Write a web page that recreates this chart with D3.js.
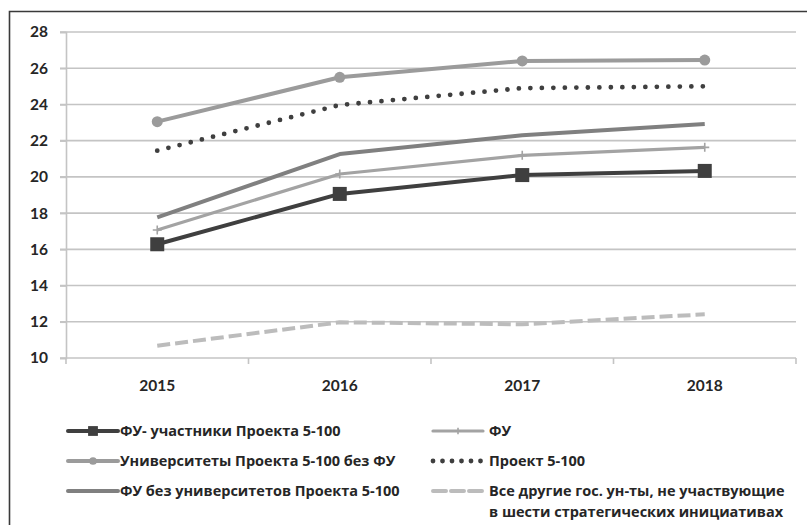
<!DOCTYPE html>
<html>
<head>
<meta charset="utf-8">
<script src="https://cdn.jsdelivr.net/npm/d3@7"></script>
<style>
  html, body { margin: 0; padding: 0; background: #fff; }
  svg { display: block; }
  text { font-family: Lato, "Open Sans", sans-serif; font-weight: bold; fill: #262626; }
  .legend text { font-family: "Open Sans", Lato, sans-serif; }
</style>
</head>
<body>
<svg id="chart" width="807" height="525"></svg>
<script>
// Years on the horizontal axis
const years = ["2015", "2016", "2017", "2018"];
// Vertical axis ticks
const yTicks = [10, 12, 14, 16, 18, 20, 22, 24, 26, 28];

// Series values
const fuProject = [16.28, 19.06, 20.1, 20.33];        // ФУ- участники Проекта 5-100
const fuAll = [17.07, 20.16, 21.19, 21.63];           // ФУ
const univProjectNoFu = [23.05, 25.5, 26.4, 26.45];   // Университеты Проекта 5-100 без ФУ
const project = [21.45, 23.97, 24.9, 25.0];           // Проект 5-100
const fuNoProject = [17.77, 21.26, 22.3, 22.92];      // ФУ без университетов Проекта 5-100
const otherUniv = [10.68, 11.97, 11.86, 12.41];       // Все другие гос. ун-ты

const seriesNames = [
  "ФУ- участники Проекта 5-100",
  "ФУ",
  "Университеты Проекта 5-100 без ФУ",
  "Проект 5-100",
  "ФУ без университетов Проекта 5-100",
  ["Все другие гос. ун-ты, не участвующие", "в шести стратегических инициативах"]
];

const series = [
  { name: seriesNames[0], values: fuProject, color: "#3f3f3f", width: 4, marker: "square" },
  { name: seriesNames[1], values: fuAll, color: "#a3a3a3", width: 3.2, marker: "plus" },
  { name: seriesNames[2], values: univProjectNoFu, color: "#9b9b9b", width: 4, marker: "circle" },
  { name: seriesNames[3], values: project, color: "#3f3f3f", width: 4.8, dash: "0,11.5", cap: "round" },
  { name: seriesNames[4], values: fuNoProject, color: "#808080", width: 4 },
  { name: seriesNames[5], values: otherUniv, color: "#bcbcbc", width: 4, dash: "13,5" }
];

const svg = d3.select("#chart");
const gridColor = "#c4c4c4";

// Outer frame (left and top edges)
svg.append("path")
  .attr("d", "M9.5,525 V11.5 H807")
  .attr("fill", "none").attr("stroke", "#3a3a3a").attr("stroke-width", 1.6);

const x = d3.scaleBand().domain(years).range([66, 796]);
const y = d3.scaleLinear().domain([10, 28]).range([358, 32]);
const cx = d => x(d) + x.bandwidth() / 2;

// Horizontal gridlines
svg.append("g").selectAll("line").data(yTicks.filter(t => t !== 10)).join("line")
  .attr("x1", 60).attr("x2", 796)
  .attr("y1", d => y(d)).attr("y2", d => y(d))
  .attr("stroke", gridColor).attr("stroke-width", 1.6);

// Y axis
const yAxis = svg.append("g").attr("transform", "translate(66,0)")
  .call(d3.axisLeft(y).tickValues(yTicks).tickSize(6).tickPadding(12));
yAxis.select(".domain").attr("stroke", gridColor).attr("stroke-width", 1.6);
yAxis.selectAll(".tick line").attr("stroke", gridColor).attr("stroke-width", 1.6);
yAxis.selectAll(".tick text").attr("font-size", 15.5).attr("font-family", "Lato, sans-serif")
  .attr("font-weight", "bold").attr("fill", "#262626");

// X axis with tick marks between categories
const xAxisG = svg.append("g").attr("transform", "translate(0,358)");
xAxisG.append("line").attr("x1", 60).attr("x2", 796).attr("y1", 0).attr("y2", 0)
  .attr("stroke", gridColor).attr("stroke-width", 1.6);
const bounds = years.map(d => x(d)).concat([x.range()[1]]);
xAxisG.selectAll("line.tk").data(bounds).join("line").attr("class", "tk")
  .attr("x1", d => d).attr("x2", d => d).attr("y1", 0).attr("y2", 6)
  .attr("stroke", gridColor).attr("stroke-width", 1.6);
xAxisG.selectAll("text").data(years).join("text")
  .attr("x", d => cx(d)).attr("y", 33).attr("text-anchor", "middle")
  .attr("font-size", 15.5).text(d => d);

const line = d3.line().x((d, i) => cx(years[i])).y(d => y(d));

function drawMarker(g, type, px, py, color, scale) {
  if (type === "square") {
    const s = 14 * scale;
    g.append("rect").attr("x", px - s / 2).attr("y", py - s / 2).attr("width", s).attr("height", s)
      .attr("fill", color);
  } else if (type === "circle") {
    g.append("circle").attr("cx", px).attr("cy", py).attr("r", 5.5 * scale).attr("fill", color);
  } else if (type === "plus") {
    const s = 4.5 * scale;
    g.append("path").attr("d", `M${px - s},${py} H${px + s} M${px},${py - s} V${py + s}`)
      .attr("stroke", color).attr("stroke-width", 1.6).attr("fill", "none");
  }
}

// Series lines and markers
const plot = svg.append("g");
series.forEach(s => {
  plot.append("path").datum(s.values)
    .attr("d", line)
    .attr("fill", "none")
    .attr("stroke", s.color)
    .attr("stroke-width", s.width)
    .attr("stroke-linejoin", "round")
    .attr("stroke-linecap", s.cap || "butt")
    .attr("stroke-dasharray", s.dash || null);
  if (s.marker) {
    s.values.forEach((v, i) => drawMarker(plot, s.marker, cx(years[i]), y(v), s.color, 1));
  }
});

// Legend, two columns
const legendPos = [
  { x: 68, y: 431 }, { x: 433, y: 431 },
  { x: 68, y: 461 }, { x: 433, y: 461 },
  { x: 68, y: 491 }, { x: 433, y: 491 }
];
const legend = svg.append("g").attr("class", "legend");
series.forEach((s, k) => {
  const p = legendPos[k];
  const g = legend.append("g");
  const len = 50;
  g.append("line").attr("x1", p.x).attr("x2", p.x + len).attr("y1", p.y).attr("y2", p.y)
    .attr("stroke", s.color).attr("stroke-width", s.width)
    .attr("stroke-linecap", s.cap || "round")
    .attr("stroke-dasharray", s.dash ? (s.cap ? "0,9.5" : "13,5") : null);
  if (s.marker) drawMarker(g, s.marker, p.x + len / 2, p.y, s.color, 0.7);
  const tx = p.x + len + (k % 2 === 0 ? 2 : 6);
  const t = g.append("text").attr("x", tx).attr("y", p.y + 5).attr("font-size", 14.5);
  const lines = Array.isArray(s.name) ? s.name : [s.name];
  lines.forEach((ln, j) => {
    t.append("tspan").attr("x", tx).attr("dy", j === 0 ? 0 : 21).text(ln);
  });
});
</script>
</body>
</html>
